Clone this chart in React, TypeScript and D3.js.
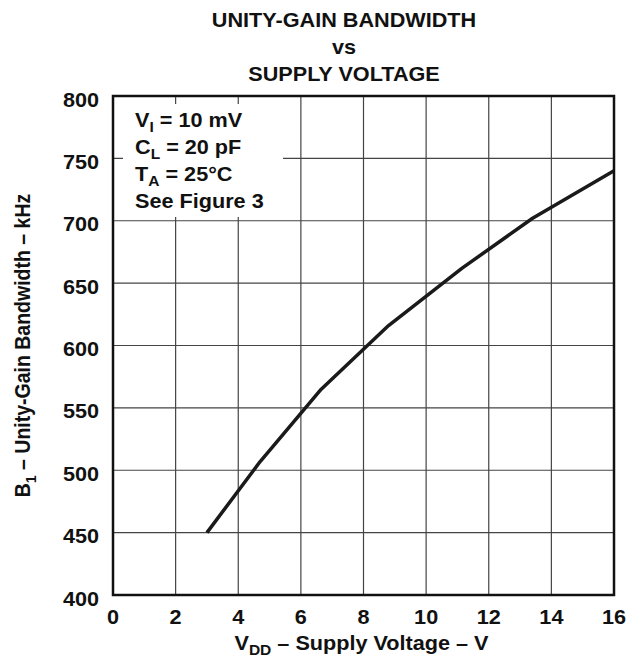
import { useEffect, useRef } from 'react';
import * as d3 from 'd3';

// Curve (V, kHz)
const SUPPLY_V = [3, 4.7, 6.65, 8.8, 11.15, 13.4, 16];
const BANDWIDTH_KHZ = [450, 507, 565, 616, 662, 702, 740];

const X_TICKS = [0, 2, 4, 6, 8, 10, 12, 14, 16];
const Y_TICKS = [400, 450, 500, 550, 600, 650, 700, 750, 800];

const TITLE_LINES = ['UNITY-GAIN BANDWIDTH', 'vs', 'SUPPLY VOLTAGE'];

// [main, subscript, rest]
const CONDITIONS: [string, string, string][] = [
  ['V', 'I', ' = 10 mV'],
  ['C', 'L', ' = 20 pF'],
  ['T', 'A', ' = 25°C'],
  ['See Figure 3', '', ''],
];

const W = 626;
const H = 658;
const FONT = '"Liberation Sans", Arial, Helvetica, sans-serif';
// the reference text is a bit wider than Arial at the same height
const SX = 1.11;

const place = (px: number, py: number) => `translate(${px},${py}) scale(${SX},1)`;

export default function App() {
  const svgRef = useRef<SVGSVGElement>(null);

  useEffect(() => {
    if (!svgRef.current) return;
    const svg = d3.select(svgRef.current);
    svg.selectAll('*').remove();

    const margin = { top: 96, right: 12, bottom: 63, left: 113 };
    const innerW = W - margin.left - margin.right;
    const innerH = H - margin.top - margin.bottom;

    const x = d3.scaleLinear().domain([0, 16]).range([0, innerW]);
    const y = d3.scaleLinear().domain([400, 800]).range([innerH, 0]);

    const g = svg.append('g').attr('transform', `translate(${margin.left},${margin.top})`);

    // Grid
    g.append('g')
      .selectAll('line')
      .data(X_TICKS.slice(1, -1))
      .join('line')
      .attr('x1', d => x(d))
      .attr('x2', d => x(d))
      .attr('y1', 0)
      .attr('y2', innerH)
      .attr('stroke', '#444')
      .attr('stroke-width', 1.2);

    g.append('g')
      .selectAll('line')
      .data(Y_TICKS.slice(1, -1))
      .join('line')
      .attr('x1', 0)
      .attr('x2', innerW)
      .attr('y1', d => y(d))
      .attr('y2', d => y(d))
      .attr('stroke', '#444')
      .attr('stroke-width', 1.2);

    // White box behind the test conditions
    g.append('rect')
      .attr('x', 10)
      .attr('y', 8)
      .attr('width', 160)
      .attr('height', 113)
      .attr('fill', '#fff');

    // Curve
    const line = d3.line<number>()
      .x((_, i) => x(SUPPLY_V[i]))
      .y(d => y(d));

    g.append('path')
      .datum(BANDWIDTH_KHZ)
      .attr('d', line)
      .attr('fill', 'none')
      .attr('stroke', '#1a1a1a')
      .attr('stroke-width', 3.5)
      .attr('stroke-linejoin', 'round');

    // Frame
    g.append('rect')
      .attr('x', 0)
      .attr('y', 0)
      .attr('width', innerW)
      .attr('height', innerH)
      .attr('fill', 'none')
      .attr('stroke', '#111')
      .attr('stroke-width', 2.5);

    // Tick labels
    g.append('g')
      .selectAll('text')
      .data(X_TICKS)
      .join('text')
      .attr('transform', d => place(x(d), innerH + 29))
      .attr('text-anchor', 'middle')
      .text(d => d);

    g.append('g')
      .selectAll('text')
      .data(Y_TICKS)
      .join('text')
      .attr('transform', d => place(-14, y(d) + 10.5))
      .attr('text-anchor', 'end')
      .text(d => d);

    // Conditions
    CONDITIONS.forEach(([main, sub, rest], i) => {
      const t = g.append('text')
        .attr('transform', place(22, 31 + i * 27));
      t.append('tspan').text(main);
      if (sub) {
        t.append('tspan').attr('font-size', 14).attr('dy', 5).text(sub);
        t.append('tspan').attr('dy', -5).text(rest);
      }
    });

    // Title
    svg.append('g')
      .selectAll('text')
      .data(TITLE_LINES)
      .join('text')
      .attr('transform', (_, i) => place(344, 27 + i * 27))
      .attr('text-anchor', 'middle')
      .text(d => d);

    // X-axis label
    const xl = svg.append('text')
      .attr('transform', place(margin.left + innerW / 2 - 2, 650))
      .attr('text-anchor', 'middle');
    xl.append('tspan').text('V');
    xl.append('tspan').attr('font-size', 14).attr('dy', 5).text('DD');
    xl.append('tspan').attr('dy', -5).text(' – Supply Voltage – V');

    // Y-axis label
    const yl = svg.append('text')
      .attr('transform', `translate(30,${margin.top + innerH / 2}) rotate(-90) scale(1,${SX})`)
      .attr('text-anchor', 'middle');
    yl.append('tspan').text('B');
    yl.append('tspan').attr('font-size', 14).attr('dy', 5).text('1');
    yl.append('tspan').attr('dy', -5).text(' – Unity-Gain Bandwidth – kHz');
  }, []);

  return (
    <svg
      ref={svgRef}
      width={W}
      height={H}
      style={{ position: 'absolute', left: 0, top: 0, background: '#fff' }}
      fontFamily={FONT}
      fontWeight="bold"
      fontSize={19.5}
      fill="#111"
    />
  );
}
